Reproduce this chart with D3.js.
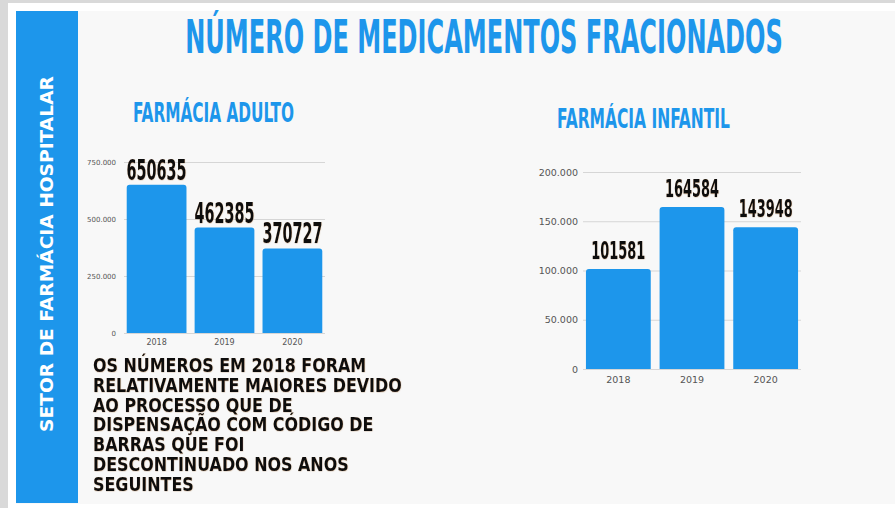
<!DOCTYPE html>
<html>
<head>
<meta charset="utf-8">
<script src="https://cdn.jsdelivr.net/npm/d3@7"></script>
<style>
  html, body { margin: 0; padding: 0; background: #d9d9d9; }
  svg { display: block; }
</style>
</head>
<body>
<svg id="chart" width="895" height="508"></svg>
<script>
// ---------- DATA ----------
const years = ["2018", "2019", "2020"];
const adultValues = [650635, 462385, 370727];
const infantValues = [101581, 164584, 143948];
const adultTicks = [0, 250000, 500000, 750000];
const infantTicks = [0, 50000, 100000, 150000, 200000];
const titleText = "NÚMERO DE MEDICAMENTOS FRACIONADOS";
const adultTitle = "FARMÁCIA ADULTO";
const infantTitle = "FARMÁCIA INFANTIL";
const sideText = "SETOR DE FARMÁCIA HOSPITALAR";
const noteLines = [
  "OS NÚMEROS EM 2018 FORAM",
  "RELATIVAMENTE MAIORES DEVIDO",
  "AO PROCESSO QUE DE",
  "DISPENSAÇÃO COM CÓDIGO DE",
  "BARRAS QUE FOI",
  "DESCONTINUADO NOS ANOS",
  "SEGUINTES"
];

// ---------- STYLE ----------
const BLUE = "#1d96eb";
const condensed = "'Liberation Sans Narrow', 'DejaVu Sans Condensed', 'Liberation Sans', sans-serif";
const wideBold = "'DejaVu Sans', 'Open Sans', sans-serif";
const tickFont = "'DejaVu Sans', 'Open Sans', sans-serif";

const svg = d3.select("#chart");
const defs = svg.append("defs");
const f = defs.append("filter").attr("id", "halo").attr("x", "-10%").attr("y", "-10%").attr("width", "120%").attr("height", "130%");
f.append("feDropShadow").attr("dx", 0.3).attr("dy", 0.4).attr("stdDeviation", 0.5)
  .attr("flood-color", "#a0703c").attr("flood-opacity", 0.45);

// background layers
svg.append("rect").attr("x", 0).attr("y", 0).attr("width", 895).attr("height", 508).attr("fill", "#d9d9d9");
svg.append("rect").attr("x", 8).attr("y", 3).attr("width", 887).attr("height", 505).attr("fill", "#ffffff");
svg.append("rect").attr("x", 16).attr("y", 11).attr("width", 879).attr("height", 493).attr("fill", "#f8f8f8");
svg.append("rect").attr("x", 16).attr("y", 11).attr("width", 62).attr("height", 492).attr("fill", BLUE);

// fit text helper: text drawn at (x,y), horizontally scaled to target width
function fitText(parent, str, o) {
  const g = parent.append("g");
  const t = g.append("text")
    .attr("text-anchor", o.anchor || "middle")
    .attr("font-family", o.family)
    .attr("font-weight", o.weight || "bold")
    .attr("font-size", o.size)
    .attr("fill", o.fill)
    .text(str);
  if (o.filter) t.attr("filter", o.filter);
  const w = t.node().getComputedTextLength();
  const s = o.scale != null ? o.scale : (o.width / w);
  g.attr("transform", `translate(${o.x},${o.y})${o.rotate ? ` rotate(${o.rotate})` : ""} scale(${s},1)`);
  return { g, t, s, w };
}
function measure(str, family, size, weight) {
  const t = svg.append("text").attr("font-family", family).attr("font-size", size)
    .attr("font-weight", weight || "bold").text(str);
  const w = t.node().getComputedTextLength();
  t.remove();
  return w;
}

// Title
fitText(svg, titleText, { x: 484, y: 53, size: 47, family: condensed, fill: BLUE, width: 598 });

// Sidebar vertical text
fitText(svg, sideText, { x: 53, y: 254, rotate: -90, size: 18, family: wideBold, fill: "#ffffff", width: 356 });

// Note paragraph
const noteSize = 19;
const noteScale = 309 / measure(noteLines[1], wideBold, noteSize, "bold");
noteLines.forEach((line, i) => {
  fitText(svg, line, { x: 93, y: 372 + i * 19.8, anchor: "start", size: noteSize, family: wideBold,
    fill: "#111111", scale: noteScale, filter: "url(#halo)" });
});

const locale = d3.formatLocale({ decimal: ",", thousands: ".", grouping: [3], currency: ["", ""] });
const fmt = locale.format(",d");

function roundTopBar(x, y, w, h, r) {
  r = Math.min(r, h, w / 2);
  return `M${x},${y + h}V${y + r}Q${x},${y} ${x + r},${y}H${x + w - r}Q${x + w},${y} ${x + w},${y + r}V${y + h}Z`;
}

function barChart(cfg) {
  const g = svg.append("g");
  const x = d3.scaleBand().domain(years).range(cfg.xRange).paddingInner(0.12).paddingOuter(0.04);
  const y = d3.scaleLinear().domain([0, cfg.ticks[cfg.ticks.length - 1]]).range(cfg.yRange);

  // gridlines + y labels
  const ya = g.append("g").attr("transform", `translate(${cfg.xRange[0]},0)`)
    .call(d3.axisLeft(y).tickValues(cfg.ticks).tickFormat(fmt)
      .tickSize(-(cfg.xRange[1] - cfg.xRange[0])).tickPadding(cfg.yPad));
  ya.select(".domain").remove();
  ya.selectAll(".tick line").attr("stroke", "#d6d6d6").attr("stroke-width", 1);
  ya.selectAll(".tick text").attr("fill", "#555").attr("font-size", cfg.tickSize)
    .attr("font-family", tickFont);

  // x labels
  const xa = g.append("g").attr("transform", `translate(0,${cfg.yRange[0]})`)
    .call(d3.axisBottom(x).tickSize(0).tickPadding(cfg.xPad));
  xa.select(".domain").remove();
  xa.selectAll(".tick text").attr("fill", "#555").attr("font-size", cfg.xTickSize)
    .attr("font-family", tickFont);

  // bars
  g.append("g").selectAll("path").data(cfg.values).join("path")
    .attr("d", (d, i) => roundTopBar(x(years[i]), y(d), x.bandwidth(), y(0) - y(d), 3))
    .attr("fill", BLUE);

  // value labels
  const digitW = measure("000000", condensed, cfg.labelSize, "bold");
  const sc = (cfg.digitPx * 6) / digitW;
  cfg.values.forEach((d, i) => {
    fitText(g, String(d), { x: x(years[i]) + x.bandwidth() / 2, y: y(d) - cfg.labelGap,
      size: cfg.labelSize, family: condensed, fill: "#111111", scale: sc, filter: "url(#halo)" });
  });

  // subtitle
  fitText(svg, cfg.title, { x: cfg.titleX, y: cfg.titleY, size: 26, family: condensed, fill: BLUE, width: cfg.titleW });
}

barChart({
  values: adultValues, ticks: adultTicks, xRange: [124, 325], yRange: [333, 162],
  yPad: 8, xPad: 6, tickSize: 7, xTickSize: 8, labelSize: 28, digitPx: 10, labelGap: 5,
  title: adultTitle, titleX: 213.5, titleY: 122, titleW: 161
});
barChart({
  values: infantValues, ticks: infantTicks, xRange: [583, 801], yRange: [369, 172],
  yPad: 5, xPad: 7, tickSize: 9.5, xTickSize: 9.5, labelSize: 25, digitPx: 9, labelGap: 10,
  title: infantTitle, titleX: 643.5, titleY: 128, titleW: 173
});
</script>
</body>
</html>
